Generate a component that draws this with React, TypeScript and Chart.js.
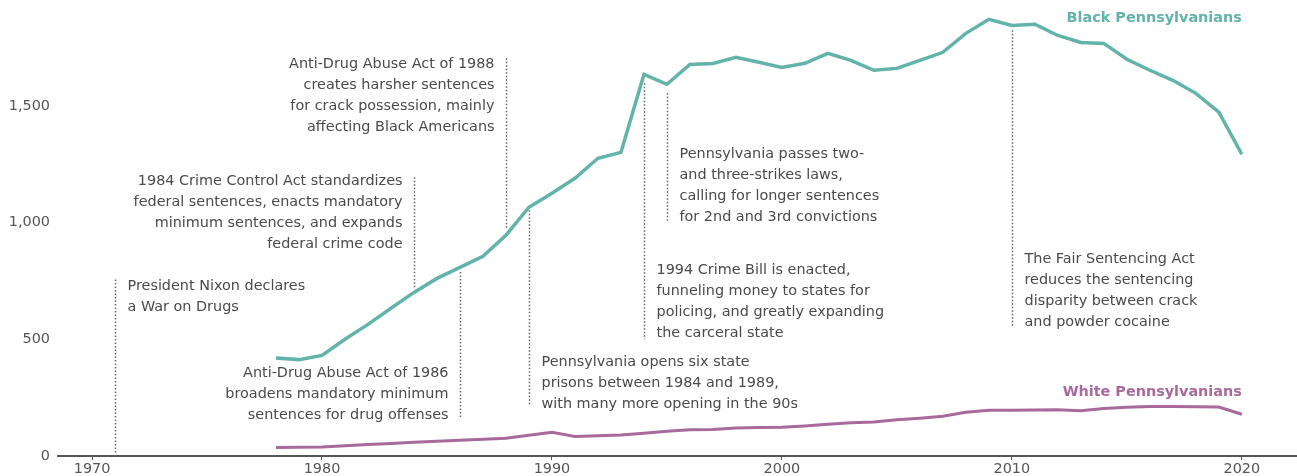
import React, { useEffect, useRef } from "react";
import { Chart, registerables } from "chart.js";

Chart.register(...registerables);

const YEARS = [1978, 1979, 1980, 1981, 1982, 1983, 1984, 1985, 1986, 1987, 1988, 1989, 1990, 1991, 1992, 1993, 1994, 1995, 1996, 1997, 1998, 1999, 2000, 2001, 2002, 2003, 2004, 2005, 2006, 2007, 2008, 2009, 2010, 2011, 2012, 2013, 2014, 2015, 2016, 2017, 2018, 2019, 2020];

const BLACK = [420, 413, 431, 500, 564, 633, 701, 761, 808, 856, 946, 1066, 1126, 1190, 1276, 1301, 1635, 1593, 1678, 1682, 1708, 1687, 1665, 1683, 1725, 1695, 1653, 1661, 1695, 1730, 1811, 1871, 1845, 1850, 1802, 1772, 1768, 1700, 1653, 1610, 1554, 1473, 1293];

const WHITE = [36, 37, 39, 44, 49, 54, 59, 63, 67, 72, 76, 89, 102, 84, 87, 90, 97, 106, 112, 114, 120, 122, 123, 129, 136, 142, 146, 155, 162, 170, 187, 196, 196, 197, 198, 194, 204, 209, 212, 212, 211, 210, 179];

const X_TICKS = [1970, 1980, 1990, 2000, 2010, 2020];
const Y_TICKS = [0, 500, 1000, 1500];

const SERIES_LABELS = ["Black Pennsylvanians", "White Pennsylvanians"];
const SERIES_COLORS = ["#62b3a9", "#a8699c"];
const SERIES_LABEL_ANCHORS = [
  { x: 2020, y: 1875 },
  { x: 2020, y: 273 },
];

// Annotations: year of the dotted rule, rule top/bottom in data units, first text line centre (data units)
const ANNOTATIONS = [
  { year: 1971, top: 756, bottom: 14, textY: 728, side: "right", lines: ["President Nixon declares", "a War on Drugs"] },
  { year: 1984, top: 1194, bottom: 715, textY: 1177, side: "left", lines: ["1984 Crime Control Act standardizes", "federal sentences, enacts mandatory", "minimum sentences, and expands", "federal crime code"] },
  { year: 1988, top: 1704, bottom: 975, textY: 1680, side: "left", lines: ["Anti-Drug Abuse Act of 1988", "creates harsher sentences", "for crack possession, mainly", "affecting Black Americans"] },
  { year: 1986, top: 788, bottom: 166, textY: 354, side: "left", lines: ["Anti-Drug Abuse Act of 1986", "broadens mandatory minimum", "sentences for drug offenses"] },
  { year: 1989, top: 1053, bottom: 213, textY: 401, side: "right", lines: ["Pennsylvania opens six state", "prisons between 1984 and 1989,", "with many more opening in the 90s"] },
  { year: 1994, top: 1597, bottom: 500, textY: 796, side: "right", lines: ["1994 Crime Bill is enacted,", "funneling money to states for", "policing, and greatly expanding", "the carceral state"] },
  { year: 1995, top: 1554, bottom: 1001, textY: 1293, side: "right", lines: ["Pennsylvania passes two-", "and three-strikes laws,", "calling for longer sentences", "for 2nd and 3rd convictions"] },
  { year: 2010, top: 1824, bottom: 552, textY: 843, side: "right", lines: ["The Fair Sentencing Act", "reduces the sentencing", "disparity between crack", "and powder cocaine"] },
];

const FONT = "'DejaVu Sans', sans-serif";
const FONT_SIZE = 14.4;
const TEXT_COLOR = "#4a4a4a";

const annotationPlugin = {
  id: "annotations",
  beforeDatasetsDraw(chart: any) {
    const { ctx, scales } = chart;
    const xs = scales.x;
    const ys = scales.y;
    ctx.save();
    for (const a of ANNOTATIONS) {
      const x = Math.round(xs.getPixelForValue(a.year)) + 0.5;
      ctx.beginPath();
      ctx.setLineDash([1.5, 2]);
      ctx.lineWidth = 1.5;
      ctx.strokeStyle = "#666";
      ctx.moveTo(x, ys.getPixelForValue(a.top));
      ctx.lineTo(x, ys.getPixelForValue(a.bottom));
      ctx.stroke();
      ctx.setLineDash([]);
      ctx.font = `${FONT_SIZE}px ${FONT}`;
      ctx.fillStyle = TEXT_COLOR;
      ctx.textBaseline = "middle";
      ctx.textAlign = a.side === "right" ? "left" : "right";
      const tx = a.side === "right" ? x + 12 : x - 12;
      const y0 = ys.getPixelForValue(a.textY);
      a.lines.forEach((line, i) => {
        ctx.fillText(line, tx, y0 + i * 21);
      });
    }
    ctx.restore();
  },
  afterDatasetsDraw(chart: any) {
    const { ctx, scales } = chart;
    ctx.save();
    ctx.font = `bold ${FONT_SIZE}px ${FONT}`;
    ctx.textAlign = "right";
    ctx.textBaseline = "middle";
    SERIES_LABELS.forEach((label, i) => {
      const p = SERIES_LABEL_ANCHORS[i];
      ctx.fillStyle = SERIES_COLORS[i];
      ctx.fillText(label, scales.x.getPixelForValue(p.x), scales.y.getPixelForValue(p.y));
    });
    ctx.restore();
  },
};

export default function App() {
  const ref = useRef<HTMLCanvasElement | null>(null);
  useEffect(() => {
    document.body.style.margin = "0";
    const canvas = ref.current;
    if (!canvas) return;
    const chart = new Chart(canvas, {
      type: "line",
      data: {
        datasets: [
          {
            label: SERIES_LABELS[0],
            data: YEARS.map((y, i) => ({ x: y, y: BLACK[i] })),
            borderColor: SERIES_COLORS[0],
            borderWidth: 3.5,
            pointRadius: 0,
            tension: 0,
          },
          {
            label: SERIES_LABELS[1],
            data: YEARS.map((y, i) => ({ x: y, y: WHITE[i] })),
            borderColor: SERIES_COLORS[1],
            borderWidth: 3,
            pointRadius: 0,
            tension: 0,
          },
        ],
      },
      options: {
        responsive: false,
        animation: false,
        devicePixelRatio: 1,
        layout: { padding: 0 },
        plugins: { legend: { display: false }, tooltip: { enabled: false } },
        scales: {
          x: {
            type: "linear",
            min: 1968.52,
            max: 2022.4,
            afterBuildTicks: (s: any) => {
              s.ticks = X_TICKS.map((v) => ({ value: v }));
            },
            afterFit: (s: any) => {
              s.height = 20;
              s.paddingLeft = 0;
              s.paddingRight = 0;
              s.paddingTop = 0;
              s.paddingBottom = 0;
            },
            grid: { drawOnChartArea: false, drawTicks: true, tickLength: 4, color: "#555", lineWidth: 1 },
            border: { display: true, color: "#555", width: 2 },
            ticks: {
              padding: 1,
              color: "#555",
              font: { family: FONT, size: FONT_SIZE },
              maxRotation: 0,
              callback: (v: any) => String(v),
            },
          },
          y: {
            min: 0,
            max: 1954,
            afterBuildTicks: (s: any) => {
              s.ticks = Y_TICKS.map((v) => ({ value: v }));
            },
            afterFit: (s: any) => {
              s.width = 58;
              s.paddingLeft = 0;
              s.paddingRight = 0;
              s.paddingTop = 0;
              s.paddingBottom = 0;
            },
            grid: { display: false, drawTicks: false },
            border: { display: false },
            ticks: {
              padding: 8,
              color: "#555",
              font: { family: FONT, size: FONT_SIZE },
              callback: (v: any) => Number(v).toLocaleString("en-US"),
            },
          },
        },
      },
      plugins: [annotationPlugin],
    });
    return () => chart.destroy();
  }, []);
  return (
    <div style={{ width: 1297, height: 476 }}>
      <canvas ref={ref} width={1297} height={476} />
    </div>
  );
}
